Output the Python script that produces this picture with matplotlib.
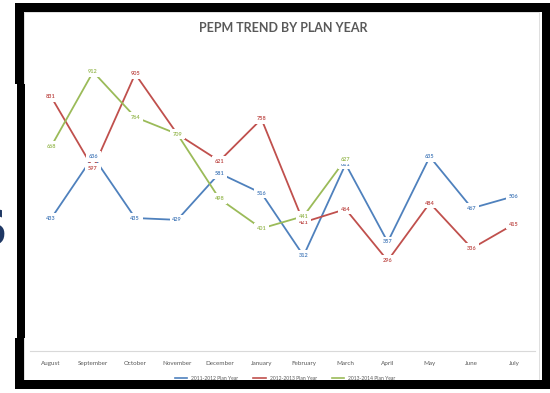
import matplotlib.pyplot as plt
from matplotlib.patches import Rectangle
from matplotlib.lines import Line2D

months = ["August", "September", "October", "November", "December", "January",
          "February", "March", "April", "May", "June", "July"]
pepm_2011 = [433, 636, 435, 429, 581, 516, 312, 611, 357, 635, 467, 506]
pepm_2012 = [831, 597, 905, 709, 621, 758, 421, 464, 296, 484, 336, 415]
pepm_2013 = [668, 912, 764, 709, 498, 401, 441, 627]
series_names = ["2011-2012 Plan Year", "2012-2013 Plan Year", "2013-2014 Plan Year"]
colors = ["#4F81BD", "#C0504D", "#9BBB59"]

W, H = 550, 393


def fx(x):
    return x / W


def fy(y):
    return 1 - y / H


fig = plt.figure(figsize=(W / 100, H / 100), dpi=100)
fig.patch.set_facecolor("white")

ax = fig.add_axes([fx(30), fy(351.4), (535 - 30) / W, (351.4 - 44.8) / H])

for vals, c in zip([pepm_2011, pepm_2012, pepm_2013], colors):
    xs = list(range(len(vals)))
    ax.plot(xs, vals, color=c, lw=1.3, zorder=2, solid_capstyle="butt")
    for x, v in zip(xs, vals):
        ax.text(x, v, str(v), ha="center", va="center", fontsize=4,
                family="Lato", fontweight="bold", color=c, zorder=3,
                bbox=dict(boxstyle="square,pad=0.5", fc="white", ec="none"))

ax.set_xlim(-0.5, 11.5)
ax.set_ylim(0, 1000)
ax.set_xticks(range(12))
ax.set_xticklabels(months, fontsize=4.5, family="Lato", color="#595959")
ax.tick_params(axis="x", length=0, pad=7)
ax.set_yticks([])
for s in ["top", "right", "left"]:
    ax.spines[s].set_visible(False)
ax.spines["bottom"].set_color("#D9D9D9")
ax.spines["bottom"].set_linewidth(0.8)

fig.text(fx(283), fy(28), "PEPM TREND BY PLAN YEAR", ha="center", va="center",
         fontsize=9, fontweight="bold", family="Lato", color="#595959")

handles = [Line2D([0], [0], color=c, lw=1.2) for c in colors]
fig.legend(handles, series_names, loc="center", bbox_to_anchor=(fx(285), fy(378)),
           ncol=3, frameon=False, prop={"family": "Lato", "size": 3.6},
           handlelength=2.5, columnspacing=3, labelcolor="#595959")

# chart border and the black frame of the photo
fig.patches.append(Rectangle((fx(24), fy(381)), (539 - 24) / W, (381 - 12) / H,
                             transform=fig.transFigure, fc="none", ec="#D9D9D9", lw=0.6))
frame = [(15, 3, 550, 12), (15, 3, 24, 84), (17, 84, 25, 338), (15, 338, 24, 389),
         (15, 380, 550, 389), (542, 3, 550, 389)]
for x0, y0, x1, y1 in frame:
    fig.patches.append(Rectangle((fx(x0), fy(y1)), (x1 - x0) / W, (y1 - y0) / H,
                                 transform=fig.transFigure, fc="black", ec="none"))

# edge of a slide letter showing at the left of the photo
fig.text(fx(7), fy(232), "S", ha="right", va="center", fontsize=36,
         fontweight="bold", color="#1F3864")

fig.savefig("out.png", dpi=100)
